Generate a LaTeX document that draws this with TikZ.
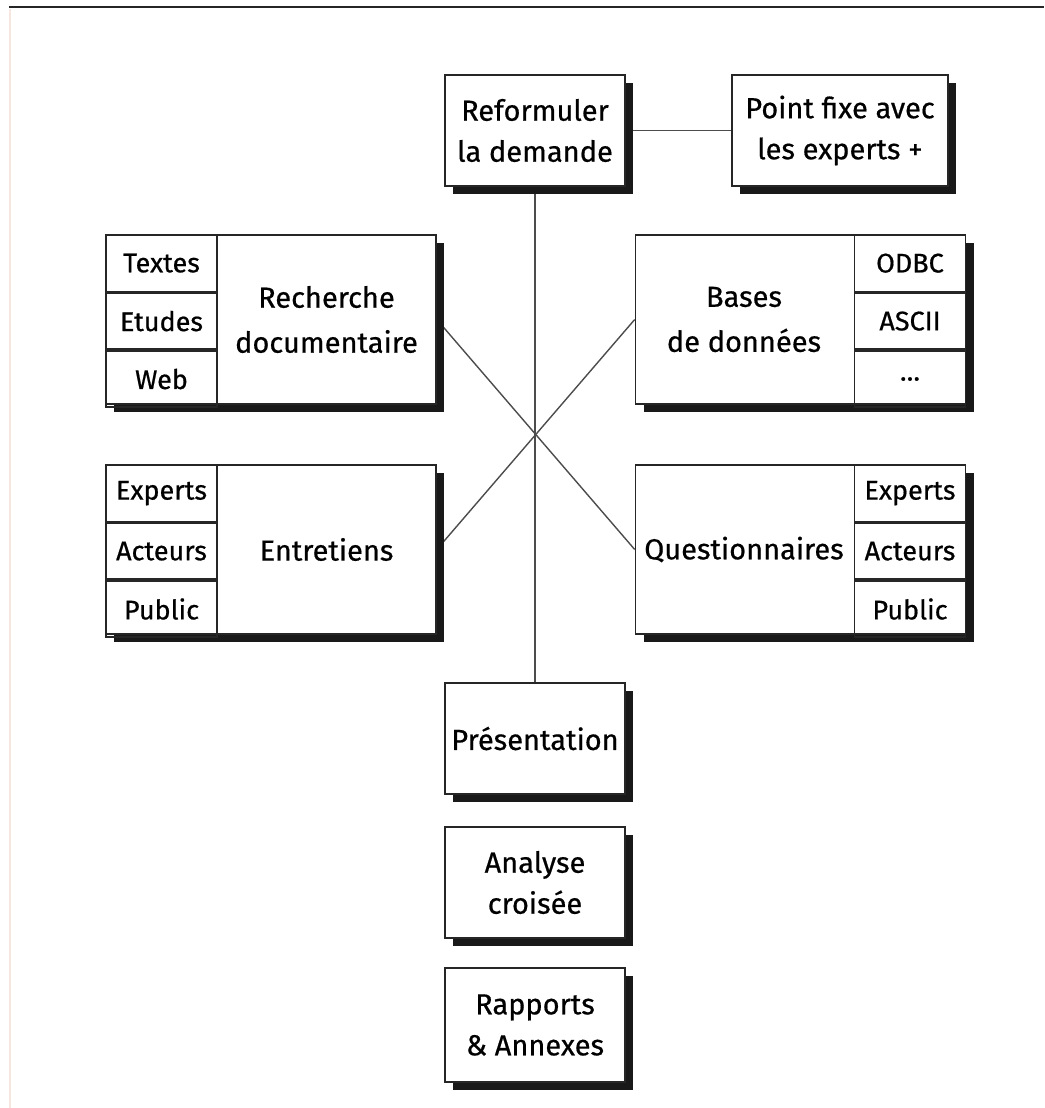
\documentclass[tikz,border=0pt]{standalone}
\usepackage{fontspec}
\setmainfont{Fira Sans}[FakeBold=0.6]
\usetikzlibrary{shadows,backgrounds}
\begin{document}
\begin{tikzpicture}[x=1pt,y=-1pt,
  box/.style={draw=black!85, line width=1.6pt, fill=white, inner sep=0pt,
    drop shadow={shadow xshift=8pt, shadow yshift=-8pt, opacity=1, fill=black!90}},
  cbox/.style={box, minimum width=180pt, minimum height=111pt, align=center,
    font=\fontsize{29}{41}\selectfont},
  bigbox/.style={box, minimum width=330pt, minimum height=169pt},
  cell/.style={draw=black!85, line width=1.6pt, inner sep=0pt, minimum width=111pt,
    minimum height=56.33pt, font=\fontsize{27}{40}\selectfont},
  txt/.style={font=\fontsize{29}{45}\selectfont, align=center, inner sep=0pt},
  link/.style={draw=black!70, line width=1.4pt}]
\useasboundingbox (0,0) rectangle (1044,1108);
% frame lines
\coordinate (tl) at (9,7);
\coordinate (tr) at (1044,7);
\coordinate (bl) at (10,1108);
\draw[line width=2pt, black!85] (tl) -- (tr);
\draw[line width=1.5pt, color={rgb,255:red,246;green,230;blue,224}] (10,9) -- (bl);

% top row
\node[cbox] (ref) at (535,130.5) {Reformuler\\la demande};
\node[cbox, minimum width=216pt] (pf) at (840,130.5) {Point fixe avec\\les experts +};

% Recherche documentaire
\node[bigbox] (rech) at (271,319.5) {};
\node[cell, anchor=north west] (rech1) at (rech.north west) {Textes};
\node[cell, anchor=north west] (rech2) at (rech1.south west) {Etudes};
\node[cell, anchor=north west] (rech3) at (rech2.south west) {Web};
\node[txt] (rechT) at (326.5,319.5) {Recherche\\documentaire};

% Bases de donnees
\node[bigbox] (bases) at (800.5,319.5) {};
\node[cell, anchor=north east] (bases1) at (bases.north east) {ODBC};
\node[cell, anchor=north east] (bases2) at (bases1.south east) {ASCII};
\node[cell, anchor=north east] (bases3) at (bases2.south east) {…};
\node[txt] (basesT) at (744,319.5) {Bases\\de données};

% Entretiens
\node[bigbox] (entr) at (271,549.5) {};
\node[cell, anchor=north west] (entr1) at (entr.north west) {Experts};
\node[cell, anchor=north west] (entr2) at (entr1.south west) {Acteurs};
\node[cell, anchor=north west] (entr3) at (entr2.south west) {Public};
\node[txt] (entrT) at (326.5,549.5) {Entretiens};

% Questionnaires
\node[bigbox] (quest) at (800.5,549.5) {};
\node[cell, anchor=north east] (quest1) at (quest.north east) {Experts};
\node[cell, anchor=north east] (quest2) at (quest1.south east) {Acteurs};
\node[cell, anchor=north east] (quest3) at (quest2.south east) {Public};
\node[txt] (questT) at (744,549.5) {Questionnaires};

% bottom column
\node[cbox] (pres) at (535,738.5) {Présentation};
\node[cbox] (anal) at (535,882.5) {Analyse\\croisée};
\node[cbox, minimum height=114pt] (rapp) at (535,1025) {Rapports\\\& Annexes};

\begin{pgfonlayer}{background}
\draw[link] (ref.south) -- (pres.north);
\draw[link] (ref.east) -- (pf.west);
\draw[link] (rech.east) -- (quest.west);
\draw[link] (bases.west) -- (entr.east);
\end{pgfonlayer}
\end{tikzpicture}
\end{document}
